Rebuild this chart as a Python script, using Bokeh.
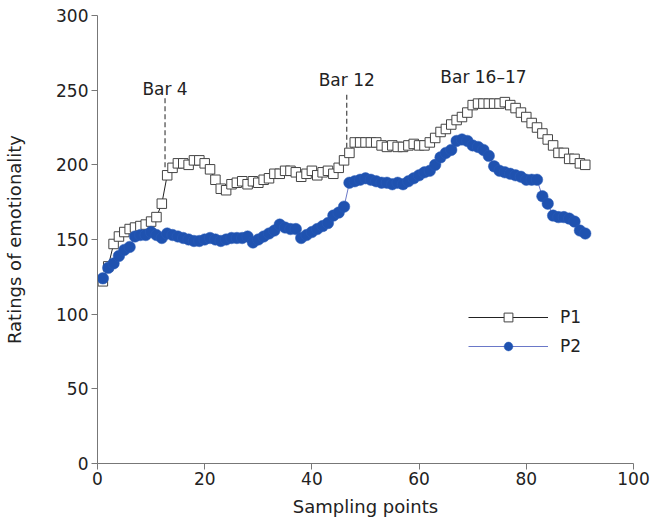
from bokeh.plotting import figure
from bokeh.models import Range1d, Legend, LegendItem, ColumnDataSource
from bokeh.core.properties import value
from bokeh.embed import file_html
from bokeh.resources import INLINE

sample = list(range(1, 92))
p1 = [122, 132, 147, 152, 155, 157, 158, 159, 160, 162,
      165, 174, 193, 198, 201, 201, 200, 203, 203, 201,
      197, 190, 184, 183, 187, 188, 189, 187, 189, 188,
      190, 191, 194, 194, 196, 196, 195, 192, 194, 196,
      193, 195, 196, 194, 198, 203, 208, 215, 215, 215,
      215, 215, 213, 212, 213, 212, 212, 213, 214, 213,
      213, 215, 218, 222, 224, 227, 230, 232, 235, 240,
      241, 241, 241, 241, 241, 242, 240, 238, 235, 232,
      228, 225, 221, 217, 213, 208, 208, 204, 204, 201, 200]
p2 = [124, 131, 134, 139, 143, 145, 152, 153, 153, 155,
      153, 151, 154, 153, 152, 151, 150, 149, 149, 150,
      151, 150, 149, 150, 151, 151, 151, 152, 148, 150,
      152, 154, 156, 160, 158, 157, 157, 151, 153, 155,
      157, 159, 161, 166, 168, 172, 188, 189, 190, 191,
      190, 189, 188, 188, 187, 188, 187, 189, 191, 193,
      195, 196, 200, 205, 208, 210, 216, 217, 216, 213,
      212, 210, 206, 199, 196, 195, 194, 193, 192, 190,
      190, 190, 179, 174, 166, 165, 165, 164, 162, 156, 154]

bar_labels = ["Bar 4", "Bar 12", "Bar 16\u201317"]
bar_label_x = [12.6, 46.5, 72.0]
bar_label_y = [251, 256.5, 259]
dash_x = [12.6, 46.5]
dash_top = [245, 248]
dash_bottom = [193, 206]

FONT = "DejaVu Sans"

p = figure(width=660, height=519, output_backend="svg", toolbar_location=None,
           x_range=Range1d(0, 100), y_range=Range1d(0, 300),
           min_border_left=97, min_border_right=27, min_border_top=15, min_border_bottom=55)
p.outline_line_color = None
p.grid.visible = False
p.background_fill_color = "white"
p.border_fill_color = "white"

for ax in (p.xaxis, p.yaxis):
    ax.axis_line_color = "#777777"
    ax.major_tick_line_color = "#777777"
    ax.minor_tick_line_color = None
    ax.major_tick_in = 0
    ax.major_tick_out = 6
    ax.major_label_text_font = FONT
    ax.major_label_text_font_size = "17px"
    ax.major_label_text_color = "#222222"
    ax.axis_label_text_font = FONT
    ax.axis_label_text_font_style = "normal"
    ax.axis_label_text_color = "#222222"

p.xaxis.ticker = [0, 20, 40, 60, 80, 100]
p.yaxis.ticker = [0, 50, 100, 150, 200, 250, 300]
p.xaxis.axis_label = "Sampling points"
p.yaxis.axis_label = "Ratings of emotionality"
p.xaxis.axis_label_text_font_size = "18px"
p.yaxis.axis_label_text_font_size = "18px"
p.xaxis.major_label_standoff = 2
p.yaxis.major_label_standoff = 3
p.xaxis.axis_label_standoff = 8
p.yaxis.axis_label_standoff = 28

src = ColumnDataSource(dict(x=sample, p1=p1, p2=p2))

p.segment(x0=dash_x, x1=dash_x, y0=dash_bottom, y1=dash_top,
          line_color="#444444", line_dash="5 3", line_width=1.2)
p.text(x=bar_label_x, y=bar_label_y, text=bar_labels, text_align="center",
       text_baseline="alphabetic", text_font=value(FONT),
       text_font_size="17px", text_color="#222222")

l1 = p.line("x", "p1", source=src, line_color="#222222", line_width=1)
s1 = p.scatter("x", "p1", source=src, marker="square", size=9.5,
               fill_color="white", line_color="#444444", line_width=1)
l2 = p.line("x", "p2", source=src, line_color="#6a78c8", line_width=1)
s2 = p.scatter("x", "p2", source=src, marker="circle", size=11.5,
               fill_color="#1f52b0", line_color="#2a5cb8", line_width=0.5)

legend = Legend(items=[LegendItem(label="P1", renderers=[l1, s1]),
                       LegendItem(label="P2", renderers=[l2, s2])],
                location=(371, 106), glyph_width=80, glyph_height=22,
                label_text_font=FONT, label_text_font_size="17px",
                label_text_color="#222222", border_line_color=None,
                background_fill_alpha=0, spacing=7, label_standoff=12, padding=4)
p.add_layout(legend)

open("out.html", "w").write(file_html(p, INLINE))
